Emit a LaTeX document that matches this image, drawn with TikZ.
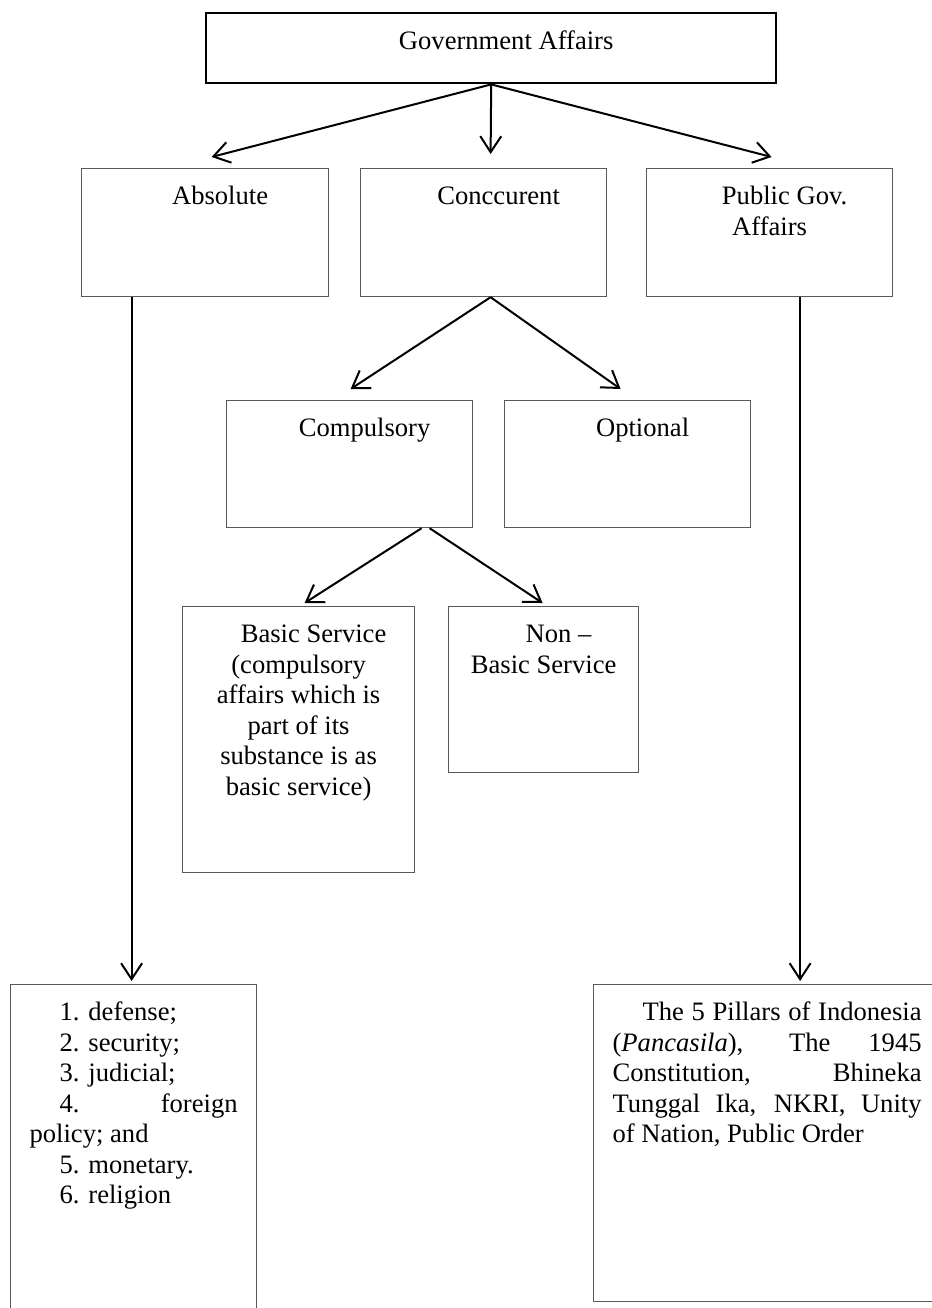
\documentclass[tikz,border=0pt]{standalone}
\usepackage{fontspec}
\setmainfont{Liberation Serif}
\usepackage{tikz}
\usetikzlibrary{arrows.meta,positioning,calc}

\newcommand{\boxtxt}[3]{\parbox[c][#2][t]{\dimexpr#1-19pt\relax}{\fontsize{13.3}{15.25}\selectfont\rule{0pt}{18pt}#3}}

\begin{document}
\begin{tikzpicture}[
  x=0.5pt, y=-0.5pt,
  box/.style={rectangle, draw=black!65, line width=0.6pt, inner xsep=9.5pt,
              inner ysep=0pt, anchor=north west},
  topbox/.style={box, draw=black, line width=1.2pt},
  >={Straight Barb[length=8pt,width=10.5pt]},
  link/.style={->, line width=1pt}
]
  \useasboundingbox (0,0) rectangle (932,1308);
  \clip (0,0) rectangle (932,1308);

  \node[topbox] (gov) at (205,12) {\boxtxt{285pt}{35pt}{\centering\hspace*{15pt}Government Affairs}};
  \node[box] (absolute) at (81,168) {\boxtxt{123.5pt}{64pt}{\centering\hspace*{15pt}Absolute}};
  \node[box] (conc) at (360,168) {\boxtxt{123pt}{64pt}{\centering\hspace*{15pt}Conccurent}};
  \node[box] (pub) at (646,168) {\boxtxt{123pt}{64pt}{\centering\hspace*{15pt}Public Gov.\\Affairs}};
  \node[box] (comp) at (226,400) {\boxtxt{123pt}{63.5pt}{\centering\hspace*{15pt}Compulsory}};
  \node[box] (opt) at (504,400) {\boxtxt{123pt}{63.5pt}{\centering\hspace*{15pt}Optional}};
  \node[box] (basic) at (182,606) {\boxtxt{116pt}{133pt}{\centering\hspace*{15pt}Basic Service\\(compulsory\\affairs which is\\part of its\\substance is as\\basic service)}};
  \node[box] (nonbasic) at (448,606) {\boxtxt{95pt}{83pt}{\centering\hspace*{15pt}Non --\\Basic Service}};
  \node[box] (duties) at (10,984) {\boxtxt{123pt}{173pt}{%
    \hspace*{15pt}1. defense;\par
    \hspace*{15pt}2. security;\par
    \hspace*{15pt}3. judicial;\par
    \hspace*{15pt}4.\hfill foreign\linebreak policy; and\par
    \hspace*{15pt}5. monetary.\par
    \hspace*{15pt}6. religion}};
  \node[box] (pillars) at (593,984) {\boxtxt{173.5pt}{158.5pt}{%
    \hspace*{15pt}The 5 Pillars of Indonesia\linebreak
    (\textit{Pancasila}), The 1945\linebreak
    Constitution, Bhineka\linebreak
    Tunggal Ika, NKRI, Unity\linebreak
    of Nation, Public Order}};

  \draw[link] (gov.south) -- ([xshift=3.25pt,yshift=5.5pt]absolute.north);
  \draw[link] (gov.south) -- ([xshift=3.5pt,yshift=7pt]conc.north);
  \draw[link] (gov.south) -- ([xshift=1pt,yshift=5.5pt]pub.north);
  \draw[link] ([xshift=3.5pt]conc.south) -- ([xshift=0.5pt,yshift=5.5pt]comp.north);
  \draw[link] ([xshift=3.5pt]conc.south) -- ([xshift=-3.5pt,yshift=5.5pt]opt.north);
  \draw[link] ([xshift=36pt]comp.south) -- ([xshift=3pt,yshift=1.5pt]basic.north);
  \draw[link] ([xshift=40pt]comp.south) -- ([xshift=-0.5pt,yshift=1.5pt]nonbasic.north);
  \draw[link] ([xshift=-36.75pt]absolute.south) -- ([xshift=-1pt,yshift=1.5pt]duties.north);
  \draw[link] ([xshift=15.25pt]pub.south) -- ([xshift=16.5pt,yshift=1.5pt]pillars.north);
\end{tikzpicture}
\end{document}
